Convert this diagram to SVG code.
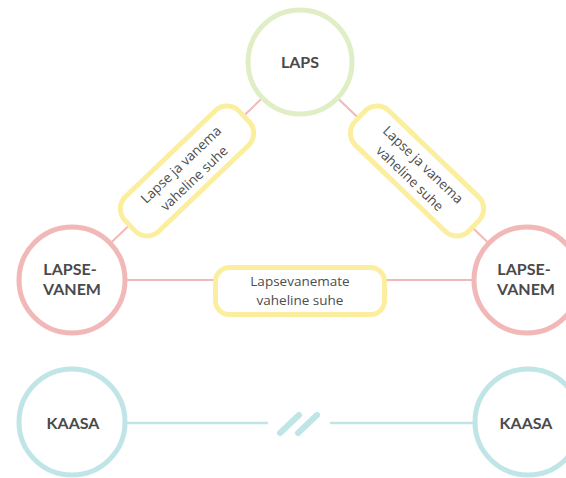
<svg xmlns="http://www.w3.org/2000/svg" width="566" height="478" viewBox="0 0 566 478">
<style>
.node{fill:#fff;stroke-width:5}
.laps{stroke:#e0eec6}
.vanem{stroke:#f2b8b8}
.kaasa{stroke:#c0e5e7}
.lbl{font-family:Lato,"Open Sans",sans-serif;font-weight:700;font-size:16px;fill:#4a4a4a;text-anchor:middle}
.box{fill:#fff;stroke:#fbef9f;stroke-width:5}
.btx{font-family:"Open Sans",Lato,sans-serif;font-size:13.5px;fill:#4d4d4d;text-anchor:middle}
.pink{stroke:#f2b8b8;stroke-width:2;fill:none}
.cyan{stroke:#c0e5e7;stroke-width:2.5;fill:none}
</style>
<rect width="566" height="478" fill="#fff"/>
<g id="connectors">
<line class="pink" x1="300" y1="62" x2="72" y2="280"/>
<line class="pink" x1="300" y1="62" x2="527" y2="280"/>
<line class="pink" x1="72" y1="280" x2="527" y2="280"/>
<line class="cyan" x1="72" y1="423" x2="268" y2="423"/>
<line class="cyan" x1="330" y1="423" x2="528" y2="423"/>
<g stroke="#c0e5e7" stroke-width="6" stroke-linecap="round">
<line x1="280" y1="433" x2="299" y2="415"/>
<line x1="298" y1="433" x2="317" y2="415"/>
</g>
</g>
<g id="rel-left" transform="translate(187 171) rotate(-43.7)">
<rect class="box" x="-79" y="-24" width="158" height="48" rx="17"/>
<text class="btx"><tspan x="0" y="-4">Lapse ja vanema</tspan><tspan x="0" y="15">vaheline suhe</tspan></text>
</g>
<g id="rel-right" transform="translate(417 171) rotate(43.8)">
<rect class="box" x="-79" y="-24" width="158" height="48" rx="17"/>
<text class="btx"><tspan x="0" y="-4">Lapse ja vanema</tspan><tspan x="0" y="15">vaheline suhe</tspan></text>
</g>
<g id="rel-parents">
<rect class="box" x="215.5" y="267.5" width="169" height="47" rx="14"/>
<text class="btx"><tspan x="300" y="286">Lapsevanemate</tspan><tspan x="300" y="305">vaheline suhe</tspan></text>
</g>
<g id="laps">
<circle class="node laps" cx="300" cy="62" r="52"/>
<text class="lbl" x="300" y="68">LAPS</text>
</g>
<g id="vanem-left">
<circle class="node vanem" cx="72" cy="280" r="53"/>
<text class="lbl"><tspan x="70" y="275">LAPSE-</tspan><tspan x="72" y="295">VANEM</tspan></text>
</g>
<g id="vanem-right">
<circle class="node vanem" cx="527" cy="280" r="53"/>
<text class="lbl"><tspan x="524" y="275">LAPSE-</tspan><tspan x="526" y="295">VANEM</tspan></text>
</g>
<g id="kaasa-left">
<circle class="node kaasa" cx="72" cy="422" r="53"/>
<text class="lbl" x="73" y="429">KAASA</text>
</g>
<g id="kaasa-right">
<circle class="node kaasa" cx="528" cy="422" r="53"/>
<text class="lbl" x="526" y="429">KAASA</text>
</g>
</svg>
